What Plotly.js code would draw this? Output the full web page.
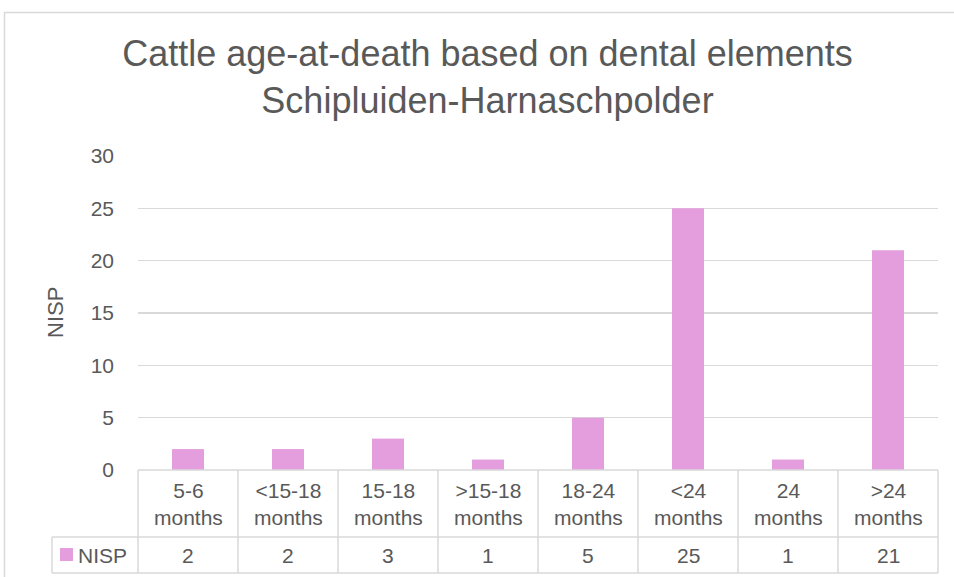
<!DOCTYPE html>
<html><head><meta charset="utf-8">
<script src="https://cdn.plot.ly/plotly-3.0.1.min.js"></script>
<style>html,body{margin:0;padding:0;background:#fff;}#chart{width:954px;height:577px;}</style>
</head><body><div id="chart"></div>
<script>
var categories = ["5-6 months","<15-18 months","15-18 months",">15-18 months","18-24 months","<24 months","24 months",">24 months"];
var catLabels = ["5-6<br>months","<15-18<br>months","15-18<br>months",">15-18<br>months","18-24<br>months","<24<br>months","24<br>months",">24<br>months"];
var nisp = [2,2,3,1,5,25,1,21];
var seriesName = "NISP";
var yTicks = [0,5,10,15,20,25,30];

var W = 954, H = 577, L = 138, R = 16, T = 156, B = 107;
var plotH = H - T - B, plotW = W - L - R;
function px(x){ return (x - L) / plotW; }
function py(y){ return (H - B - y) / plotH; }
var row1 = py(537), row2 = py(573);
var lineCol = "#d9d9d9", txtCol = "#595959", barCol = "#e49edd";
var font = "Liberation Sans, Arial, sans-serif";
var n = categories.length;

var shapes = [];
// outer chart border
shapes.push({type:"rect", xref:"paper", yref:"paper", x0:px(4.5), x1:px(980), y0:py(600), y1:py(12.5), line:{color:lineCol,width:1.5}, fillcolor:"rgba(0,0,0,0)"});
// table lines
shapes.push({type:"line", xref:"paper", yref:"paper", x0:0, x1:1, y0:0, y1:0, line:{color:lineCol,width:1.5}});
shapes.push({type:"line", xref:"paper", yref:"paper", x0:px(52), x1:1, y0:row1, y1:row1, line:{color:lineCol,width:1.5}});
shapes.push({type:"line", xref:"paper", yref:"paper", x0:px(52), x1:1, y0:row2, y1:row2, line:{color:lineCol,width:1.5}});
for (var k = 0; k <= n; k++) {
  shapes.push({type:"line", xref:"paper", yref:"paper", x0:k/n, x1:k/n, y0:0, y1:row2, line:{color:lineCol,width:1.5}});
}
shapes.push({type:"line", xref:"paper", yref:"paper", x0:px(52), x1:px(52), y0:row1, y1:row2, line:{color:lineCol,width:1.5}});
// legend key
shapes.push({type:"rect", xref:"paper", yref:"paper", x0:px(60), x1:px(73), y0:py(561), y1:py(548), line:{width:0}, fillcolor:barCol});

var annotations = [];
for (var i = 0; i < n; i++) {
  annotations.push({x:categories[i], xref:"x", y:row1/2, yref:"paper", text:catLabels[i], showarrow:false, font:{family:font,size:21,color:txtCol}, yanchor:"middle", xanchor:"center"});
  annotations.push({x:categories[i], xref:"x", y:(row1+row2)/2, yref:"paper", text:String(nisp[i]), showarrow:false, font:{family:font,size:21,color:txtCol}, yanchor:"middle", xanchor:"center"});
}
annotations.push({x:px(76), xref:"paper", y:(row1+row2)/2, yref:"paper", text:seriesName, showarrow:false, font:{family:font,size:21,color:txtCol}, xanchor:"left", yanchor:"middle"});
annotations.push({x:px(55), xref:"paper", y:py(313), yref:"paper", text:seriesName, showarrow:false, textangle:-90, font:{family:font,size:22,color:txtCol}, xanchor:"center", yanchor:"middle"});

var data = [{type:"bar", x:categories, y:nisp, name:seriesName, marker:{color:barCol}, hoverinfo:"x+y"}];

var layout = {
  width:W, height:H,
  margin:{l:L, r:R, t:T, b:B, pad:0},
  paper_bgcolor:"#fff", plot_bgcolor:"#fff",
  showlegend:false,
  bargap:0.68,
  title:{text:"Cattle age-at-death based on dental elements<br>Schipluiden-Harnaschpolder", x:487.5/W, xref:"container", xanchor:"center", y:1-66/H, yref:"container", yanchor:"middle", font:{family:font,size:36,color:txtCol}},
  xaxis:{type:"category", showticklabels:false, ticks:"", showgrid:false, zeroline:false, showline:false, range:[-0.5,n-0.5], fixedrange:true},
  yaxis:{range:[0,30], tickvals:yTicks, ticktext:yTicks.map(String), showgrid:true, gridcolor:lineCol, gridwidth:1.5, zeroline:false, showline:false, ticks:"", ticklabelstandoff:23,
         tickfont:{family:font,size:21,color:txtCol}},
  shapes:shapes, annotations:annotations
};
Plotly.newPlot("chart", data, layout, {displayModeBar:false, staticPlot:true});
</script></body></html>
